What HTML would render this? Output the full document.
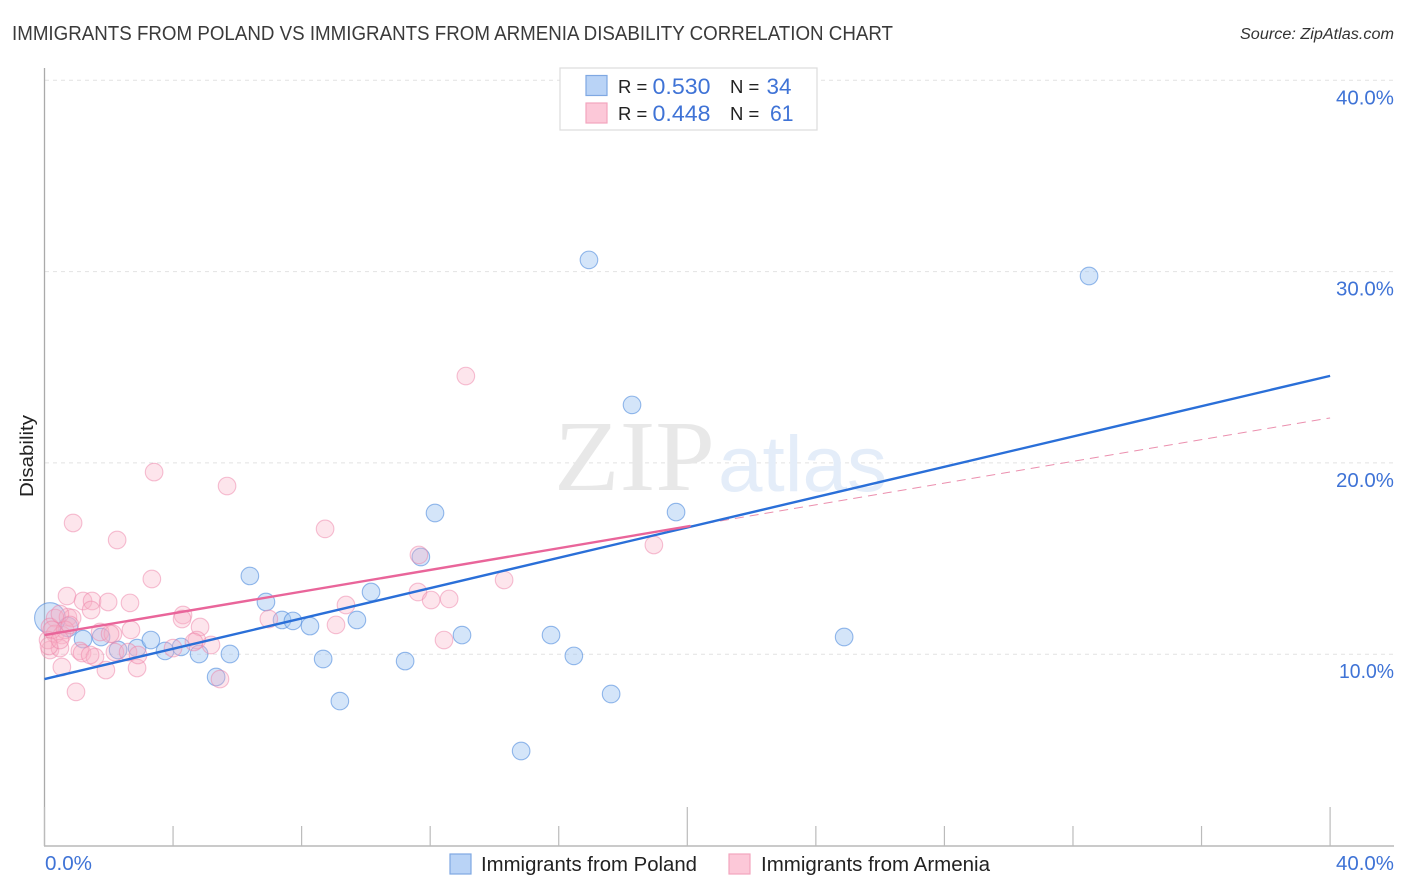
<!DOCTYPE html>
<html>
<head>
<meta charset="utf-8">
<title>Immigrants from Poland vs Immigrants from Armenia Disability Correlation Chart</title>
<style>
html,body{margin:0;padding:0;background:#fff;}
svg{display:block;font-family:"Liberation Sans",sans-serif;}
</style>
</head>
<body>
<svg id="chart" width="1406" height="892" viewBox="0 0 1406 892" xmlns="http://www.w3.org/2000/svg">
  <text x="12" y="40" font-size="20" fill="#3a3a3a" textLength="881" lengthAdjust="spacingAndGlyphs">IMMIGRANTS FROM POLAND VS IMMIGRANTS FROM ARMENIA DISABILITY CORRELATION CHART</text>
  <text x="1394" y="39" font-size="15.5" font-style="italic" fill="#333" text-anchor="end" textLength="154" lengthAdjust="spacingAndGlyphs">Source: ZipAtlas.com</text>
  <g id="grid"></g>
  <text x="554" y="490" font-family="'Liberation Serif',serif" font-size="101" fill="#e8e8e8" textLength="161" lengthAdjust="spacingAndGlyphs">ZIP</text>
  <text x="718" y="491" font-size="79" fill="#e4edf9" textLength="169" lengthAdjust="spacingAndGlyphs">atlas</text>
  <g id="axes"></g>
  <g id="blue-points"></g>
  <g id="pink-points"></g>
  <g id="trends"></g>
  <text transform="translate(33,456) rotate(-90)" font-size="18.5" fill="#222" text-anchor="middle" textLength="82" lengthAdjust="spacingAndGlyphs">Disability</text>
  <g id="ytick-labels"></g>
  <text x="45" y="870" font-size="20" fill="#3f73d6" textLength="47" lengthAdjust="spacingAndGlyphs">0.0%</text>
  <text x="1394" y="870" font-size="20" fill="#3f73d6" text-anchor="end" textLength="58" lengthAdjust="spacingAndGlyphs">40.0%</text>

  <g>
    <rect x="560" y="68" width="257" height="62" fill="#fff" stroke="#dcdcdc" stroke-width="1.2"/>
    <rect x="586" y="75.500" width="21" height="20" fill="#b9d3f6" stroke="#7fa8e2" stroke-width="1.200"/>
    <rect x="586" y="103" width="21" height="20" fill="#fcc8d8" stroke="#f3a5bf" stroke-width="1.200"/>
    <text x="618" y="93" font-size="18.500" fill="#222">R =</text>
    <text x="652.500" y="94" font-size="22" fill="#3f73d6" textLength="58" lengthAdjust="spacingAndGlyphs">0.530</text>
    <text x="730" y="93" font-size="18.500" fill="#222">N =</text>
    <text x="766.500" y="94" font-size="22" fill="#3f73d6" textLength="25" lengthAdjust="spacingAndGlyphs">34</text>
    <text x="618" y="120" font-size="18.500" fill="#222">R =</text>
    <text x="652.500" y="121" font-size="22" fill="#3f73d6" textLength="58" lengthAdjust="spacingAndGlyphs">0.448</text>
    <text x="730" y="120" font-size="18.500" fill="#222">N =</text>
    <text x="770" y="121" font-size="22" fill="#3f73d6" textLength="23.500" lengthAdjust="spacingAndGlyphs">61</text>
  </g>

  <g>
    <rect x="450" y="854" width="21" height="20" fill="#b9d3f6" stroke="#7fa8e2" stroke-width="1.200"/>
    <text x="481" y="871" font-size="20" fill="#222" textLength="216" lengthAdjust="spacingAndGlyphs">Immigrants from Poland</text>
    <rect x="729" y="854" width="21" height="20" fill="#fcc8d8" stroke="#f3a5bf" stroke-width="1.200"/>
    <text x="761" y="871" font-size="20" fill="#222" textLength="229" lengthAdjust="spacingAndGlyphs">Immigrants from Armenia</text>
  </g>
</svg>
<script>
var yTicks = [10, 20, 30, 40];
var yTickLabels = ["10.0%", "20.0%", "30.0%", "40.0%"];
var xTicks = [0, 4, 8, 12, 16, 20, 24, 28, 32, 36, 40];
var majorXTicks = [0, 20, 40];

var polandX = [16.94,32.50,18.28,12.15,19.65,11.71,6.39,10.16,6.89,7.39,7.73,8.26,9.72,12.99,15.76,24.88,8.67,9.19,0.73,1.20,1.76,2.29,2.88,3.31,3.75,4.25,4.81,5.77,5.34,0.17,11.22,16.47,17.63,14.83];
var polandY = [30.61,29.77,23.03,17.38,17.43,15.08,14.09,13.25,12.73,11.79,11.74,11.47,11.79,11.00,11.00,10.90,9.75,7.55,11.42,10.79,10.90,10.22,10.32,10.74,10.17,10.38,10.01,10.01,8.81,11.89,9.64,9.91,7.92,4.94];
var polandSizes = [1,1,1,1,1,1,1,1,1,1,1,1,1,1,1,1,1,1,1.1,1,1,1,1,1,1,1,1,1,1,1.75,1,1,1,1];

var armeniaX = [13.11,3.41,5.68,0.89,8.73,2.26,11.65,3.34,14.30,18.96,11.62,12.03,12.59,9.38,12.43,9.07,6.98,0.70,1.20,1.48,1.98,2.66,1.45,4.31,4.28,4.84,4.74,4.65,5.18,4.00,2.69,1.73,2.13,2.04,2.88,1.91,0.54,0.98,5.46,0.33,0.73,0.86,0.17,0.33,0.54,0.17,0.48,1.10,1.17,1.57,1.42,2.19,2.60,2.91,0.64,0.11,0.23,0.14,0.48,0.48,0.79];
var armeniaY = [24.54,19.52,18.79,16.86,16.55,15.97,15.19,13.93,13.88,15.71,13.25,12.83,12.89,12.57,10.74,11.53,11.84,13.04,12.78,12.78,12.73,12.68,12.31,12.05,11.84,11.42,10.74,10.64,10.48,10.32,11.27,11.16,11.06,11.06,9.28,9.17,9.33,8.03,8.70,11.89,11.94,11.89,11.42,11.06,11.00,10.22,10.32,10.17,10.06,9.85,9.96,10.11,10.11,9.96,11.27,10.74,11.27,10.43,12.10,10.74,11.53];

var polandTrend = [8.7, 24.55];
var armeniaTrend = [11.0, 22.35];
var armeniaSolidEnd = 20.1;
var trendDomain = [0, 40];

function sx(v) { return 44.5 + v * 32.14; }
function sy(v) { return 845.5 - v * 19.13; }
function trendAt(t, v) { return t[0] + (t[1] - t[0]) * (v - trendDomain[0]) / (trendDomain[1] - trendDomain[0]); }

var NS = "http://www.w3.org/2000/svg";
function make(parent, tag, props) {
  var el = document.createElementNS(NS, tag);
  for (var k in props) { el.setAttribute(k, props[k]); }
  parent.appendChild(el);
  return el;
}

var gridG = document.getElementById("grid");
yTicks.forEach(function (t) {
  var gl = make(gridG, "line", { x1: 45, x2: 1394, y1: sy(t), y2: sy(t), stroke: "#e2e2e2", "stroke-width": 1, "stroke-dasharray": "4 4" });
  
  
});

var axesG = document.getElementById("axes");
var yAxis = make(axesG, "line", { x1: 44.5, x2: 44.5, y1: 68, y2: 846, stroke: "#aaa", "stroke-width": 1.3 });


var xAxis = make(axesG, "line", { x1: 44, x2: 1394, y1: 846, y2: 846, stroke: "#aaa", "stroke-width": 1.3 });


xTicks.forEach(function (t) {
  var top = majorXTicks.indexOf(t) >= 0 ? 807 : 826;
  var tk = make(axesG, "line", { x1: sx(t), x2: sx(t), y1: top, y2: 846, stroke: "#bbb", "stroke-width": 1.2 });
  
  
});

var labelG = document.getElementById("ytick-labels");
yTicks.forEach(function (t, i) {
  var lb = make(labelG, "text", { x: 1394, y: sy(t) + 24, "font-size": 20, fill: "#3f73d6", "text-anchor": "end", textLength: t === 10 ? 55 : 58, lengthAdjust: "spacingAndGlyphs" });
  lb.textContent = yTickLabels[i];
  
  
});

var blueG = document.getElementById("blue-points");
polandX.forEach(function (x, i) {
  var c = make(blueG, "circle", { cx: sx(x), cy: sy(polandY[i]), r: 8.8 * polandSizes[i], fill: "rgba(160,197,242,0.45)", stroke: "rgba(80,140,222,0.6)", "stroke-width": 1.1 });
  
  
});

var pinkG = document.getElementById("pink-points");
armeniaX.forEach(function (x, i) {
  var c = make(pinkG, "circle", { cx: sx(x), cy: sy(armeniaY[i]), r: 8.8, fill: "rgba(250,175,198,0.33)", stroke: "rgba(238,130,168,0.5)", "stroke-width": 1.1 });
  
  
});

var trendG = document.getElementById("trends");
var dash = make(trendG, "line", { x1: sx(armeniaSolidEnd), y1: sy(trendAt(armeniaTrend, armeniaSolidEnd)), x2: sx(trendDomain[1]), y2: sy(trendAt(armeniaTrend, trendDomain[1])), stroke: "#eb8fae", "stroke-width": 1, "stroke-dasharray": "9 6" });


var blueLine = make(trendG, "line", { x1: sx(trendDomain[0]), y1: sy(trendAt(polandTrend, trendDomain[0])), x2: sx(trendDomain[1]), y2: sy(trendAt(polandTrend, trendDomain[1])), stroke: "#2a6fd8", "stroke-width": 2.4 });


var pinkLine = make(trendG, "line", { x1: sx(trendDomain[0]), y1: sy(trendAt(armeniaTrend, trendDomain[0])), x2: sx(armeniaSolidEnd), y2: sy(trendAt(armeniaTrend, armeniaSolidEnd)), stroke: "#e9659a", "stroke-width": 2.4 });


</script>
</body>
</html>
